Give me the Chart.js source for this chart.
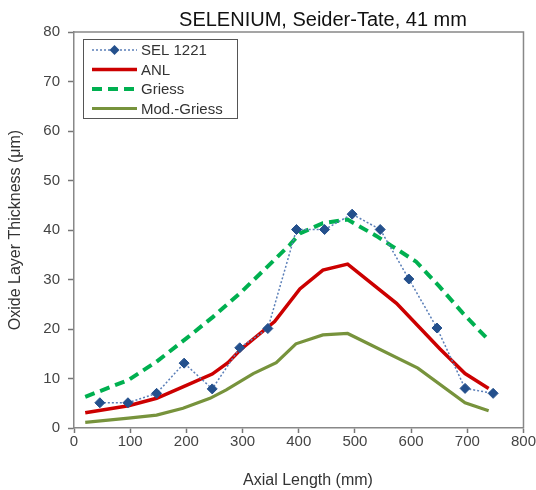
<!DOCTYPE html>
<html><head><meta charset="utf-8">
<script src="https://cdn.jsdelivr.net/npm/chart.js@4/dist/chart.umd.min.js"></script>
<style>html,body{margin:0;padding:0;background:#fff}#wrap{width:536px;height:490px}</style>
</head><body><div id="wrap"><canvas id="c" width="536" height="490"></canvas></div>
<script>
const titleText = "SELENIUM, Seider-Tate, 41 mm";
const xTitle = "Axial Length (mm)";
const yTitle = "Oxide Layer Thickness (\u03bcm)";
const seriesNames = ["SEL 1221", "ANL", "Griess", "Mod.-Griess"];
const xTicks = [0, 100, 200, 300, 400, 500, 600, 700, 800];
const yTicks = [0, 10, 20, 30, 40, 50, 60, 70, 80];

const selX = [46, 96, 147, 196, 246, 295, 345, 396, 446, 495, 545, 596, 646, 696, 746];
const selY = [5.1, 5.1, 7.0, 13.1, 7.9, 16.2, 20.1, 40.1, 40.1, 43.2, 40.1, 30.1, 20.2, 8.0, 7.0];

const anlX = [20, 97, 147, 198, 246, 274, 298, 357, 402, 443, 487, 574, 651, 696, 738];
const anlY = [3.1, 4.5, 6.0, 8.5, 10.9, 13.2, 16.0, 21.5, 28.1, 31.9, 33.1, 25.2, 16.0, 11.0, 8.0];

const griessX = [20, 97, 147, 200, 248, 298, 348, 384, 402, 443, 487, 538, 568, 609, 651, 692, 735];
const griessY = [6.3, 9.7, 13.4, 18.1, 22.5, 27.5, 33.0, 37.0, 39.3, 41.4, 42.1, 38.8, 36.6, 33.6, 28.5, 23.2, 18.1];

const modX = [20, 97, 147, 194, 242, 271, 319, 360, 395, 443, 487, 612, 696, 738];
const modY = [1.15, 2.0, 2.6, 4.0, 6.0, 7.7, 11.0, 13.2, 17.0, 18.8, 19.1, 12.1, 5.1, 3.5];

const pts = (xs, ys) => xs.map((x, i) => ({x: x, y: ys[i]}));

const FONT = "'Liberation Sans', Arial, sans-serif";
const styles = [
  {color: '#5b7fb8', width: 1.5, dash: [2, 2], point: true},
  {color: '#cc0000', width: 3.5, dash: []},
  {color: '#00b050', width: 4, dash: [10, 6]},
  {color: '#77933c', width: 3.2, dash: []}
];

const decor = {
  id: 'decor',
  afterDraw(chart) {
    const ctx = chart.ctx, a = chart.chartArea;
    ctx.save();
    // plot frame top/right
    ctx.strokeStyle = '#888'; ctx.lineWidth = 1.5;
    ctx.beginPath();
    ctx.moveTo(a.left, a.top); ctx.lineTo(a.right, a.top); ctx.lineTo(a.right, a.bottom);
    ctx.stroke();
    // title
    ctx.fillStyle = '#111';
    ctx.font = "20px " + FONT;
    ctx.textAlign = 'center'; ctx.textBaseline = 'middle';
    ctx.fillText(titleText, 323, 20);
    // axis titles
    ctx.fillStyle = '#333';
    ctx.font = "16px " + FONT;
    ctx.fillText(xTitle, 308, 481);
    ctx.save();
    ctx.translate(16, 230); ctx.rotate(-Math.PI / 2);
    ctx.fillText(yTitle, 0, 0);
    ctx.restore();
    // legend
    const lx = 83, ly = 39, lw = 154, lh = 79;
    ctx.fillStyle = '#fff';
    ctx.fillRect(lx, ly, lw, lh);
    ctx.strokeStyle = '#555'; ctx.lineWidth = 1;
    ctx.strokeRect(lx + 0.5, ly + 0.5, lw, lh);
    ctx.font = "15px " + FONT;
    ctx.textAlign = 'left';
    const rowY = [50, 69.5, 89, 108.5];
    seriesNames.forEach((name, i) => {
      const s = styles[i], y = rowY[i];
      ctx.strokeStyle = s.color; ctx.lineWidth = s.width;
      ctx.setLineDash(s.dash);
      ctx.beginPath(); ctx.moveTo(92, y); ctx.lineTo(137, y); ctx.stroke();
      ctx.setLineDash([]);
      if (s.point) {
        ctx.fillStyle = '#24508c';
        ctx.beginPath();
        ctx.moveTo(114.5, y - 5); ctx.lineTo(119.5, y); ctx.lineTo(114.5, y + 5); ctx.lineTo(109.5, y);
        ctx.closePath(); ctx.fill();
      }
      ctx.fillStyle = '#333';
      ctx.fillText(name, 141, y + 1);
    });
    ctx.restore();
  }
};

new Chart(document.getElementById('c'), {
  type: 'line',
  data: {
    datasets: [
      {label: seriesNames[0], data: pts(selX, selY), borderColor: styles[0].color, borderWidth: 1.5,
       borderDash: [2, 2], pointStyle: 'rectRot', pointRadius: 5, pointBackgroundColor: '#24508c',
       pointBorderColor: '#24508c', pointBorderWidth: 1, order: 0},
      {label: seriesNames[1], data: pts(anlX, anlY), borderColor: styles[1].color, borderWidth: 3.5,
       pointRadius: 0, order: 1},
      {label: seriesNames[2], data: pts(griessX, griessY), borderColor: styles[2].color, borderWidth: 4,
       borderDash: [10, 6], pointRadius: 0, order: 2},
      {label: seriesNames[3], data: pts(modX, modY), borderColor: styles[3].color, borderWidth: 3.2,
       pointRadius: 0, order: 3}
    ]
  },
  options: {
    responsive: false,
    animation: false,
    events: [],
    layout: {padding: {top: 32, right: 12, left: 0, bottom: 0}},
    plugins: {legend: {display: false}, tooltip: {enabled: false}, title: {display: false}},
    scales: {
      x: {
        type: 'linear', min: 0, max: 800,
        afterFit: s => { s.height = 62; },
        afterBuildTicks: s => { s.ticks = xTicks.map(v => ({value: v})); },
        ticks: {color: '#444', font: {family: FONT, size: 15}, padding: 0, maxRotation: 0},
        grid: {drawOnChartArea: false, drawTicks: true, tickLength: 5, tickColor: '#777', tickWidth: 1.5},
        border: {display: true, color: '#888', width: 1.5}
      },
      y: {
        type: 'linear', min: 0, max: 80,
        afterFit: s => { s.width = 74; },
        afterBuildTicks: s => { s.ticks = yTicks.map(v => ({value: v})); },
        ticks: {color: '#444', font: {family: FONT, size: 15}, padding: 8},
        grid: {drawOnChartArea: false, drawTicks: true, tickLength: 6, tickColor: '#777', tickWidth: 1.5},
        border: {display: true, color: '#888', width: 1.5}
      }
    }
  },
  plugins: [decor]
});
</script></body></html>
